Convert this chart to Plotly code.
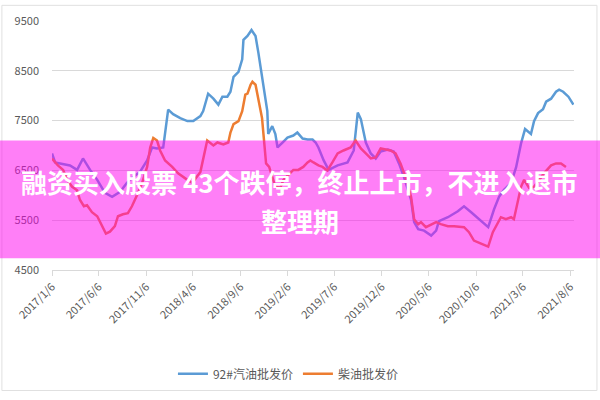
import plotly.graph_objects as go

# 92# gasoline wholesale price (yuan/ton)
gas_dates = [
    "2017-01-06", "2017-01-16", "2017-02-01", "2017-03-05", "2017-03-28", "2017-04-16",
    "2017-05-09", "2017-06-01", "2017-06-26", "2017-07-19", "2017-08-14", "2017-09-05",
    "2017-09-25", "2017-10-17", "2017-11-09", "2017-11-25", "2017-12-11", "2017-12-31",
    "2018-01-16", "2018-02-01", "2018-02-24", "2018-03-19", "2018-04-07", "2018-04-30",
    "2018-05-09", "2018-05-25", "2018-06-11", "2018-06-27", "2018-07-10", "2018-07-26",
    "2018-08-05", "2018-08-15", "2018-08-31", "2018-09-12", "2018-09-16", "2018-09-29",
    "2018-10-12", "2018-10-25", "2018-11-03", "2018-11-19", "2018-12-02", "2018-12-05",
    "2018-12-18", "2018-12-28", "2019-01-04", "2019-01-20", "2019-02-05", "2019-02-24",
    "2019-03-09", "2019-03-26", "2019-04-11", "2019-04-27", "2019-05-07", "2019-05-16",
    "2019-06-02", "2019-06-18", "2019-07-04", "2019-07-17", "2019-08-18", "2019-09-07",
    "2019-09-20", "2019-09-30", "2019-10-16", "2019-11-01", "2019-11-17", "2019-12-03",
    "2019-12-26", "2020-01-14", "2020-01-31", "2020-02-16", "2020-03-10", "2020-03-20",
    "2020-04-02", "2020-04-21", "2020-05-14", "2020-05-30", "2020-06-08", "2020-07-07",
    "2020-08-08", "2020-08-28", "2020-09-20", "2020-10-16", "2020-11-14", "2020-12-03",
    "2020-12-19", "2021-01-04", "2021-01-27", "2021-02-12", "2021-02-28", "2021-03-13",
    "2021-04-01", "2021-04-11", "2021-04-24", "2021-05-10", "2021-05-20", "2021-06-05",
    "2021-06-21", "2021-07-01", "2021-07-14", "2021-07-31", "2021-08-16",
]
gas_price = [
    6840, 6660, 6640, 6600, 6510, 6740,
    6510, 6310, 6050, 5970, 6070, 6250,
    6370, 6470, 6700, 6960, 6940, 6960,
    7720, 7630, 7550, 7490, 7490, 7590,
    7690, 8040, 7940, 7820, 7980, 7980,
    8080, 8380, 8480, 8730, 9120, 9200,
    9320, 9200, 8870, 8220, 7690, 7230,
    7390, 7230, 6960, 7060, 7160, 7200,
    7260, 7140, 7120, 7120, 7060, 6960,
    6700, 6510, 6560, 6600, 6660, 6900,
    7660, 7530, 7060, 6840, 6740, 6880,
    6920, 6880, 6640, 6370, 5910, 5460,
    5320, 5290, 5190, 5290, 5480, 5560,
    5680, 5780, 5660, 5520, 5360, 5720,
    5970, 6110, 6250, 6560, 7040, 7330,
    7230, 7490, 7650, 7730, 7880, 7940,
    8080, 8120, 8080, 7980, 7820,
]

# diesel wholesale price (yuan/ton)
diesel_dates = [
    "2017-01-06", "2017-01-25", "2017-02-11", "2017-02-24", "2017-03-12", "2017-03-28",
    "2017-04-06", "2017-04-19", "2017-04-29", "2017-05-15", "2017-06-01", "2017-06-16",
    "2017-06-29", "2017-07-12", "2017-07-28", "2017-08-07", "2017-08-23", "2017-09-08",
    "2017-09-21", "2017-10-08", "2017-10-24", "2017-11-09", "2017-11-19", "2017-11-29",
    "2017-12-11", "2017-12-21", "2018-01-06", "2018-01-29", "2018-02-17", "2018-03-19",
    "2018-04-04", "2018-04-30", "2018-05-22", "2018-06-11", "2018-06-24", "2018-07-13",
    "2018-07-29", "2018-08-05", "2018-08-15", "2018-08-31", "2018-09-12", "2018-09-22",
    "2018-09-29", "2018-10-09", "2018-10-15", "2018-10-25", "2018-11-03", "2018-11-15",
    "2018-11-28", "2018-12-08", "2018-12-18", "2018-12-28", "2019-01-13", "2019-01-23",
    "2019-02-08", "2019-02-24", "2019-03-12", "2019-03-28", "2019-04-11", "2019-04-20",
    "2019-04-30", "2019-05-16", "2019-05-29", "2019-06-14", "2019-06-30", "2019-07-17",
    "2019-08-05", "2019-08-28", "2019-09-13", "2019-09-30", "2019-10-16", "2019-11-01",
    "2019-11-17", "2019-12-03", "2020-01-04", "2020-01-20", "2020-02-05", "2020-02-21",
    "2020-03-10", "2020-03-20", "2020-04-02", "2020-04-11", "2020-04-27", "2020-05-14",
    "2020-05-30", "2020-06-14", "2020-07-07", "2020-07-27", "2020-08-28", "2020-09-13",
    "2020-09-29", "2020-10-22", "2020-11-14", "2020-11-29", "2020-12-16", "2020-12-25",
    "2021-01-10", "2021-01-27", "2021-02-05", "2021-02-18", "2021-02-28", "2021-03-10",
    "2021-03-26", "2021-04-11", "2021-04-27", "2021-05-13", "2021-06-05", "2021-06-21",
    "2021-07-07", "2021-07-23",
]
diesel_price = [
    6740, 6600, 6510, 6310, 6170, 6100,
    5910, 5780, 5800, 5660, 5580, 5380,
    5230, 5270, 5380, 5580, 5620, 5640,
    5780, 6010, 6250, 6570, 6960, 7150,
    7100, 6900, 6700, 6570, 6440, 6310,
    6250, 6470, 7100, 7000, 7060, 7020,
    7060, 7260, 7430, 7490, 7690, 8020,
    8040, 8220, 8280, 8220, 7940, 7550,
    6640, 6570, 6370, 6170, 6150, 6310,
    6410, 6510, 6510, 6570, 6660, 6700,
    6660, 6600, 6570, 6500, 6660, 6840,
    6900, 6960, 7100, 6940, 6840, 6740,
    6760, 6940, 6900, 6840, 6640, 6370,
    5970, 5520, 5420, 5460, 5360, 5420,
    5460, 5420, 5380, 5380, 5360, 5260,
    5090, 5030, 4970, 5260, 5460, 5560,
    5520, 5560, 5520, 5910, 6170, 6310,
    6150, 6170, 6310, 6440, 6600, 6640,
    6640, 6570,
]

tick_dates = [
    "2017-01-06", "2017-06-06", "2017-11-06", "2018-04-06", "2018-09-06", "2019-02-06",
    "2019-07-06", "2019-12-06", "2020-05-06", "2020-10-06", "2021-03-06", "2021-08-06",
]
tick_labels = [
    "2017/1/6", "2017/6/6", "2017/11/6", "2018/4/6", "2018/9/6", "2019/2/6",
    "2019/7/6", "2019/12/6", "2020/5/6", "2020/10/6", "2021/3/6", "2021/8/6",
]
y_ticks = [4500, 5500, 6500, 7500, 8500, 9500]

banner_line1 = "融资买入股票 43个跌停，终止上市，不进入退市"
banner_line2 = "整理期"

FONT = "Noto Sans CJK SC, Microsoft YaHei, sans-serif"

fig = go.Figure()
fig.add_trace(go.Scatter(x=gas_dates, y=gas_price, mode="lines", name="92#汽油批发价",
                         line=dict(color="#5b9bd5", width=2.5)))
fig.add_trace(go.Scatter(x=diesel_dates, y=diesel_price, mode="lines", name="柴油批发价",
                         line=dict(color="#ed7d31", width=2.5)))

fig.update_layout(
    width=600, height=400,
    margin=dict(l=52, r=26, t=18, b=128),
    paper_bgcolor="white", plot_bgcolor="white",
    font=dict(family=FONT, color="#595959", size=11),
    showlegend=True,
    legend=dict(orientation="h", x=0.452, xanchor="center", y=-0.417, yanchor="middle",
                font=dict(size=12, color="#595959"), itemwidth=30),
    xaxis=dict(type="date", range=["2017-01-06", "2021-08-18"],
               tickvals=tick_dates, ticktext=tick_labels, tickangle=-45,
               showgrid=False, showline=True, linecolor="#d9d9d9", linewidth=1,
               ticks="outside", ticklen=5, tickcolor="#d9d9d9",
               tickfont=dict(size=11, color="#595959")),
    yaxis=dict(range=[4500, 9500], tickvals=y_ticks, showgrid=True, gridcolor="#d9d9d9",
               zeroline=False, ticklabelstandoff=12, tickfont=dict(size=11, color="#595959")),
)

# chart border
fig.add_shape(type="rect", xref="paper", yref="paper", x0=-0.096, x1=1.044, y0=-0.484, y1=1.063,
              line=dict(color="#e0e0e0", width=1), layer="below")

# pink banner overlay
fig.add_shape(type="rect", xref="paper", yref="paper", x0=-0.11, x1=1.06, y0=0.047, y1=0.52,
              fillcolor="rgba(255,0,240,0.5)", line=dict(width=0), layer="above")
fig.add_annotation(text="<b>" + banner_line1 + "</b>", xref="paper", yref="paper",
                   x=0.475, y=0.354, xanchor="center", yanchor="middle", showarrow=False,
                   font=dict(family=FONT, size=26, color="white"))
fig.add_annotation(text="<b>" + banner_line2 + "</b>", xref="paper", yref="paper",
                   x=0.475, y=0.197, xanchor="center", yanchor="middle", showarrow=False,
                   font=dict(family=FONT, size=26, color="white"))

# drop the page's default body margin so the chart sits at the window's corner
fig.write_html("out.html", config={"displayModeBar": False},
               post_script="document.body.style.margin='0';")
